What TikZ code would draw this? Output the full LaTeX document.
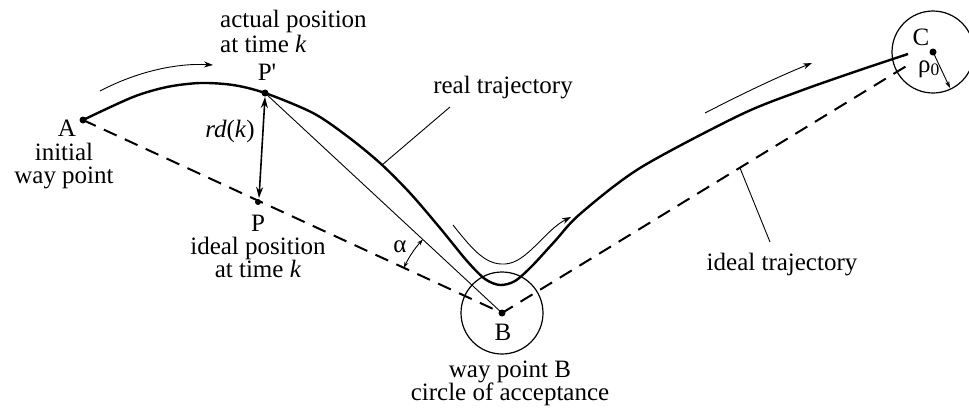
\documentclass[tikz,border=0pt]{standalone}
\usepackage{fontspec}
\setmainfont{Liberation Serif}
\usetikzlibrary{arrows.meta,calc}
\begin{document}
\begin{tikzpicture}[x=1pt,y=-1pt,
  lbl/.style={inner sep=0pt,font=\fontsize{25}{23}\selectfont,align=center},
  thick path/.style={line width=2.4pt},
  ideal/.style={line width=2pt,dash pattern=on 14pt off 9pt},
  thinline/.style={line width=0.9pt},
  dotp/.style={circle,fill=black,inner sep=0pt,minimum size=7pt},
  tip/.style={-{Stealth[length=9pt,width=6pt]}},
  dtip/.style={{Stealth[length=11pt,width=7pt]}-{Stealth[length=11pt,width=7pt]}}]
\useasboundingbox (0,0) rectangle (969,410);
% points
\coordinate (A) at (83,120);
\coordinate (Pp) at (265,93);
\coordinate (P) at (258,202);
\coordinate (B) at (502,313);
\coordinate (C) at (933,52);
\coordinate (Cend) at (913,62);
% circles
\draw[line width=1.2pt] (B) circle[radius=41];
\draw[line width=1.2pt] (C) circle[radius=41];
% ideal trajectory
\draw[ideal] (A) -- (B) -- (Cend);
% thin line P' -> B
\draw[thinline] (Pp) -- (B);
% real trajectory
\draw[thick path] plot[smooth,tension=0.5] coordinates {(83,120) (133,97) (167,87) (200,83) (233,85) (265,93) (313,113) (347,136) (380,163) (410,193) (440,228) (467,261) (485,279) (500,285) (515,281) (532,266) (555,241) (580,214) (640,168) (740,115) (800,91) (860,70) (908,54)};
% dots
\node[dotp] at (A) {};
\node[dotp] at (Pp) {};
\node[dotp,minimum size=6pt] at (P) {};
\node[dotp] at (B) {};
\node[dotp] at (C) {};
% rd(k) double arrow
\coordinate (rdt) at (265,97);
\coordinate (rdb) at (259,198);
\draw[dtip,line width=1.6pt] (rdt) -- (rdb);
% alpha arc
\draw[{Stealth[length=6pt,width=4pt]}-{Stealth[length=6pt,width=4pt]},line width=0.9pt] ($(B)+(204.7:108)$) arc[start angle=204.7,end angle=222.9,radius=108];
% rho arrow
\coordinate (Crim) at (950,88);
\draw[thinline,-{Stealth[length=7pt,width=4.5pt]}] (C) -- (Crim);
% motion arrows
\coordinate (m1s) at (100,91); \coordinate (m1e) at (213,65);
\draw[thinline,tip] (m1s) .. controls (140,70) and (180,63) .. (m1e);
\coordinate (m2s) at (453,225); \coordinate (m2b) at (505,264); \coordinate (m2e) at (571,217);
\draw[thinline,tip] (m2s) .. controls (475,253) and (487,265) .. (m2b) .. controls (527,263) and (545,230) .. (m2e);
\coordinate (m3s) at (705,113); \coordinate (m3e) at (812,63);
\draw[thinline,tip] (m3s) .. controls (740,95) and (775,78) .. (m3e);
% leaders
\coordinate (r1) at (382,165); \coordinate (r2) at (450,107);
\draw[thinline] (r1) -- (r2);
\coordinate (i1) at (740,168); \coordinate (i2) at (770,242);
\draw[thinline] (i1) -- (i2);
% labels
\node[lbl,anchor=base west,align=left,font=\fontsize{25}{25}\selectfont] (tact) at (220,52) {actual position\\at time \textit{k}};
\node[lbl,anchor=base] (tPp) at (267,80) {P\textquotesingle};
\node[lbl,anchor=base] (tA) at (67,136) {A};
\node[lbl,anchor=base] (tinit) at (64,183) {initial\\way point};
\node[lbl,anchor=base] (trd) at (230,137) {\textit{rd}(\textit{k})};
\node[lbl,anchor=base] (tP) at (258,231) {P};
\node[lbl,anchor=base] (tideal) at (258,277) {ideal position\\at time \textit{k}};
\node[lbl,anchor=base] (talpha) at (400,252) {α};
\node[lbl,anchor=base] (tB) at (503,340) {B};
\node[lbl,anchor=base] (tway) at (510,400) {way point B\\circle of acceptance};
\node[lbl,anchor=base] (treal) at (503,93) {real trajectory};
\node[lbl,anchor=base] (tit) at (782,270) {ideal trajectory};
\node[lbl,anchor=base] (tC) at (921,45) {C};
\node[lbl,anchor=base] (trho) at (929,72) {ρ\textsubscript{0}};
\end{tikzpicture}
\end{document}
